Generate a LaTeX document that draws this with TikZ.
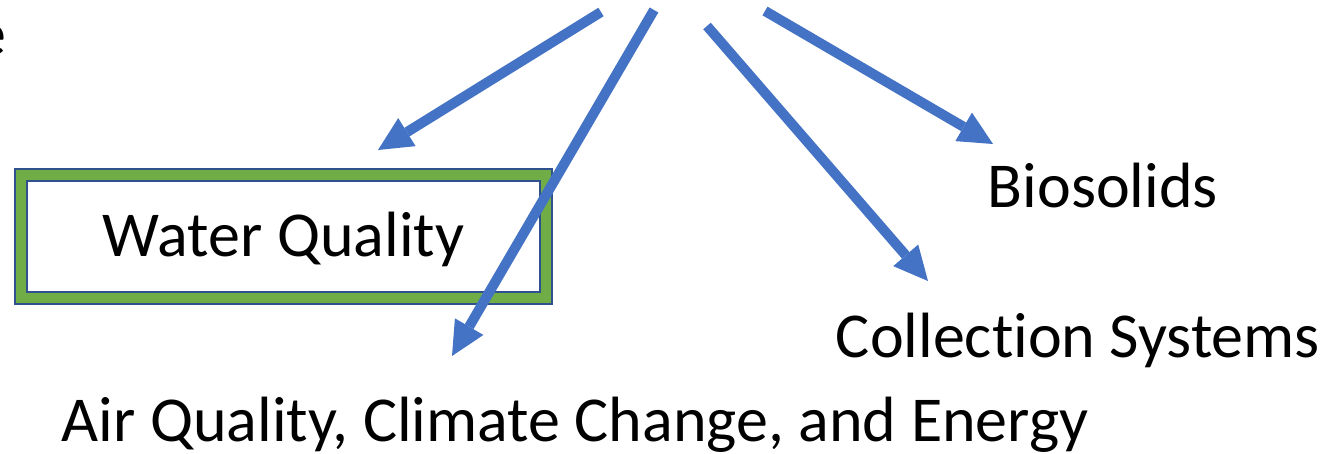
\documentclass[tikz,border=0pt]{standalone}
\usepackage{fontspec}
\setmainfont{Carlito}[Ligatures=NoCommon]
\usetikzlibrary{arrows.meta}
\definecolor{blueish}{RGB}{68, 114, 196}
\definecolor{greenish}{RGB}{112, 173, 71}
\definecolor{navyish}{RGB}{47, 82, 143}
\tikzset{
  topic/.style = {inner sep=0pt, black,
    font=\fontsize{64}{77}\selectfont},
  topic_box/.style = {topic, rectangle, draw=navyish, line width=2pt,
    double=greenish, double distance=10pt, fill=white,
    minimum width=525pt, minimum height=123pt,
    text height=39pt, text depth=0pt},% cadre vert
  link/.style = {->, blueish, line width=10pt},% fleche bleue
}

\begin{document}
\begin{tikzpicture}[x=1pt, y=-1pt,
  >={Triangle[length=34pt, width=33pt, line width=0pt]},
]
\useasboundingbox (0,0) rectangle (1325,453);
% bout du titre coupe
\node [topic, anchor=base east] (title) at (7,55) {e};
\node [topic_box] (water) at (283.5,236.5) {Water Quality};
\node [topic, anchor=base] (bio) at (1103,207) {Biosolids};
\node [topic, anchor=base] (coll) at (1078,357) {Collection Systems};
\node [topic, anchor=base] (air) at (575,441) {Air Quality, Climate Change, and Energy};
% departs et pointes des fleches
\coordinate (s1) at (601,12);
\coordinate (s2) at (654,10);
\coordinate (s3) at (707,26);
\coordinate (s4) at (765,11);
\coordinate (t1) at (378,150);
\coordinate (t2) at (452,356);
\coordinate (t3) at (928,281);
\coordinate (t4) at (993,144);
\draw [link] (s1) -- (t1);
\draw [link] (s2) -- (t2);
\draw [link] (s3) -- (t3);
\draw [link] (s4) -- (t4);
\end{tikzpicture}
\end{document}
